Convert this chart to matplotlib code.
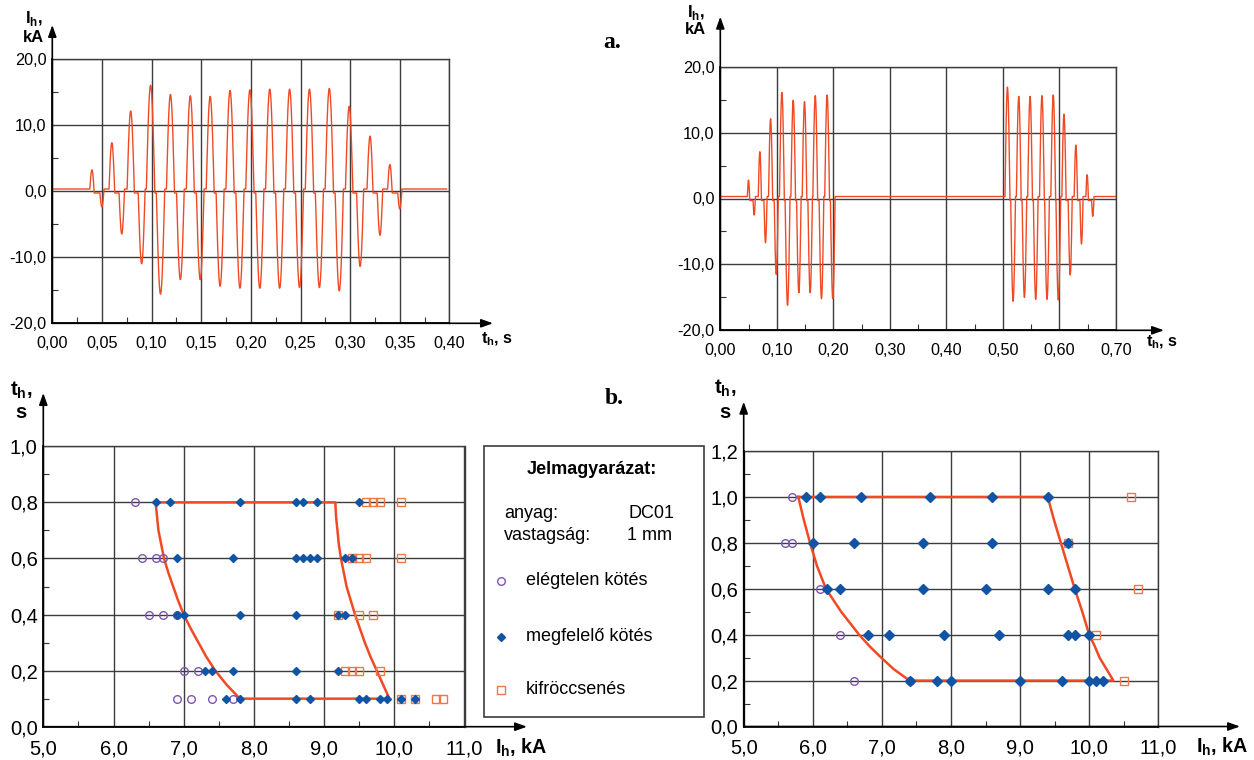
import numpy as np
import matplotlib
matplotlib.use("Agg")
import matplotlib.pyplot as plt
from matplotlib.patches import Rectangle
from matplotlib.lines import Line2D

# --- a. current waveforms (peak time in s, peak current in kA) ---
tl_pos_t = [0.040, 0.060, 0.079, 0.099, 0.119, 0.139, 0.159, 0.179, 0.199, 0.219, 0.239, 0.259, 0.279, 0.299, 0.320, 0.340]
tl_pos_a = [3.2, 7.3, 12.1, 16.0, 14.6, 14.4, 14.3, 15.2, 15.3, 15.4, 15.4, 15.4, 15.5, 12.8, 8.3, 4.0]
tl_neg_t = [0.050, 0.070, 0.090, 0.109, 0.129, 0.149, 0.169, 0.189, 0.209, 0.229, 0.249, 0.269, 0.289, 0.310, 0.330, 0.350]
tl_neg_a = [-2.4, -6.5, -11.0, -15.6, -13.4, -13.4, -14.4, -14.7, -14.7, -14.7, -14.6, -14.6, -15.1, -11.4, -6.7, -2.7]
tl_end = 0.397

tr_pos_t = [0.050, 0.070, 0.089, 0.109, 0.129, 0.149, 0.168, 0.189,
            0.508, 0.528, 0.548, 0.569, 0.589, 0.608, 0.629, 0.649]
tr_pos_a = [2.8, 7.1, 12.1, 16.1, 14.9, 14.7, 15.6, 15.7,
            16.9, 15.5, 15.5, 15.6, 15.7, 12.8, 8.1, 3.6]
tr_neg_t = [0.060, 0.080, 0.099, 0.119, 0.139, 0.159, 0.179, 0.199,
            0.518, 0.538, 0.558, 0.578, 0.598, 0.619, 0.639, 0.659]
tr_neg_a = [-2.5, -6.7, -11.5, -16.2, -14.3, -14.3, -15.2, -15.2,
            -15.6, -15.0, -15.3, -15.3, -15.4, -11.6, -6.9, -2.7]
tr_end = 0.70

# --- b. weld lobes (current kA, time s) ---
bl_weak_i = [6.3, 6.4, 6.6, 6.7, 6.5, 6.7, 6.9, 7.0, 7.2, 6.9, 7.1, 7.4, 7.7]
bl_weak_t = [0.8, 0.6, 0.6, 0.6, 0.4, 0.4, 0.4, 0.2, 0.2, 0.1, 0.1, 0.1, 0.1]
bl_good_i = [6.6, 6.8, 7.8, 8.6, 8.7, 8.9, 9.5,
             6.9, 7.7, 8.6, 8.7, 8.8, 8.9, 9.3, 9.4,
             6.9, 7.0, 7.8, 8.6, 9.2, 9.3,
             7.3, 7.4, 7.7, 8.6, 9.2,
             7.6, 7.8, 8.6, 8.8, 9.5, 9.6, 9.8, 9.9, 10.1, 10.3]
bl_good_t = [0.8] * 7 + [0.6] * 8 + [0.4] * 6 + [0.2] * 5 + [0.1] * 10
bl_splash_i = [9.6, 9.7, 9.8, 10.1, 9.4, 9.5, 9.6, 10.1, 9.2, 9.5, 9.7, 9.3, 9.4, 9.5, 9.8, 10.1, 10.3, 10.6, 10.7]
bl_splash_t = [0.8] * 4 + [0.6] * 4 + [0.4] * 3 + [0.2] * 4 + [0.1] * 4
bl_env_i = [6.60, 9.16, 9.17, 9.19, 9.21, 9.24, 9.28, 9.32, 9.38, 9.44, 9.51, 9.58, 9.66, 9.75, 9.84, 9.93,
            7.80, 7.61, 7.45, 7.32, 7.21, 7.10, 7.00, 6.92, 6.85, 6.78, 6.72, 6.68, 6.64, 6.62, 6.60]
bl_env_t = [0.80, 0.80, 0.75, 0.70, 0.65, 0.60, 0.55, 0.50, 0.45, 0.40, 0.35, 0.30, 0.25, 0.20, 0.15, 0.10,
            0.10, 0.15, 0.20, 0.25, 0.30, 0.35, 0.40, 0.45, 0.50, 0.55, 0.60, 0.65, 0.70, 0.75, 0.80]

br_weak_i = [5.7, 5.6, 5.7, 6.1, 6.4, 6.6, 7.4]
br_weak_t = [1.0, 0.8, 0.8, 0.6, 0.4, 0.2, 0.2]
br_good_i = [5.9, 6.1, 6.7, 7.7, 8.6, 9.4,
             6.0, 6.6, 7.6, 8.6, 9.7,
             6.2, 6.4, 7.6, 8.5, 9.4, 9.8,
             6.8, 7.1, 7.9, 8.7, 9.7, 9.8, 10.0,
             7.4, 7.8, 8.0, 9.0, 9.6, 10.0, 10.1, 10.2]
br_good_t = [1.0] * 6 + [0.8] * 5 + [0.6] * 6 + [0.4] * 7 + [0.2] * 8
br_splash_i = [10.6, 9.7, 10.7, 10.1, 10.5]
br_splash_t = [1.0, 0.8, 0.6, 0.4, 0.2]
br_env_i = [5.79, 9.40, 9.49, 9.59, 9.69, 9.79, 9.90, 10.00, 10.08, 10.15, 10.25, 10.35,
            7.40, 7.17, 6.99, 6.82, 6.67, 6.41, 6.19, 6.06, 5.96, 5.87, 5.79]
br_env_t = [1.0, 1.0, 0.9, 0.8, 0.7, 0.6, 0.5, 0.4, 0.35, 0.3, 0.25, 0.2,
            0.2, 0.25, 0.3, 0.35, 0.4, 0.5, 0.6, 0.7, 0.8, 0.9, 1.0]

tl_xticks = [0.00, 0.05, 0.10, 0.15, 0.20, 0.25, 0.30, 0.35, 0.40]
tr_xticks = [0.0, 0.1, 0.2, 0.3, 0.4, 0.5, 0.6, 0.7]
top_yticks = [-20, -10, 0, 10, 20]
b_xticks = [5, 6, 7, 8, 9, 10, 11]
bl_yticks = [0.0, 0.2, 0.4, 0.6, 0.8, 1.0]
br_yticks = [0.0, 0.2, 0.4, 0.6, 0.8, 1.0, 1.2]

W, H = 1254, 760
RED = "#f04a24"
GRID = "#3c3c3c"

plt.rcParams["font.family"] = ["Liberation Sans", "DejaVu Sans"]
plt.rcParams["mathtext.fontset"] = "custom"
plt.rcParams["mathtext.rm"] = "Liberation Sans"
plt.rcParams["mathtext.bf"] = "Liberation Sans:bold"

fig = plt.figure(figsize=(W / 100, H / 100), dpi=100)


def fxy(x, y):
    return x / W, 1 - y / H


def comma(v, nd):
    return f"{v:.{nd}f}".replace(".", ",")


def make_axes(box, tips):
    x0, y0, x1, y1 = box
    ax = fig.add_axes([x0 / W, 1 - y1 / H, (x1 - x0) / W, (y1 - y0) / H])
    xtip, ytip = tips
    arrow = dict(arrowstyle="-|>,head_length=0.7,head_width=0.25", color="black",
                 lw=1.2, mutation_scale=10, shrinkA=0, shrinkB=0)
    ax.annotate("", xy=((xtip - x0) / (x1 - x0), 0), xytext=(0, 0),
                xycoords="axes fraction", arrowprops=arrow, annotation_clip=False)
    ax.annotate("", xy=(0, (y1 - ytip) / (y1 - y0)), xytext=(0, 0),
                xycoords="axes fraction", arrowprops=arrow, annotation_clip=False)
    return ax


def style(ax, xticks, xnd, yticks, ynd, xminor, yminor, fs):
    ax.set_xticks(xticks)
    ax.set_xticklabels([comma(v, xnd) for v in xticks])
    ax.set_yticks(yticks)
    ax.set_yticklabels([comma(v, ynd) for v in yticks])
    ax.set_xticks(xminor, minor=True)
    ax.set_yticks(yminor, minor=True)
    ax.tick_params(which="major", length=0, labelsize=fs)
    ax.tick_params(axis="x", which="major", pad=9)
    ax.tick_params(axis="y", which="major", pad=4)
    ax.tick_params(which="minor", direction="in", length=4, width=0.8, color="#333333")
    ax.grid(True, which="major", color=GRID, lw=1.0)
    ax.set_axisbelow(True)
    for s in ["top", "right"]:
        ax.spines[s].set_color(GRID)
        ax.spines[s].set_linewidth(1.0)
    for s in ["left", "bottom"]:
        ax.spines[s].set_linewidth(1.2)


def waveform(pos_t, pos_a, neg_t, neg_a, t_end, step=0.3):
    # each half-wave lobe is drawn as a sine arc; between lobes the trace
    # rests slightly below zero after a positive lobe and above after a negative one
    times = np.array(pos_t + neg_t)
    amps = np.array(pos_a + neg_a)
    order = np.argsort(times)
    level = step
    t, y = [0.0], [level]
    u = np.linspace(0, 1, 31)
    shape = np.sin(np.pi * u)
    for tp, a in zip(times[order], amps[order]):
        half = 0.0017 + 0.0026 * abs(a) / 16
        nxt = -step if a > 0 else step
        t.extend(tp - half + 2 * half * u)
        y.extend(level * (1 - u) + nxt * u + a * shape)
        level = nxt
    t.append(t_end)
    y.append(level)
    return t, y


# ---------------- a. top left ----------------
ax1 = make_axes((52.3, 58.7, 449.5, 323.3), (493, 25))
ax1.set_xlim(0, 0.40)
ax1.set_ylim(-20, 20)
style(ax1, tl_xticks, 2, top_yticks, 1, np.arange(0.025, 0.4, 0.05), [-15, -5, 5, 15], 11.7)
t, y = waveform(tl_pos_t, tl_pos_a, tl_neg_t, tl_neg_a, tl_end)
ax1.plot(t, y, color=RED, lw=1.0)

# ---------------- a. top right ----------------
ax2 = make_axes((720.3, 66.7, 1116, 330.3), (1164, 16.7))
ax2.set_xlim(0, 0.70)
ax2.set_ylim(-20, 20)
style(ax2, tr_xticks, 2, top_yticks, 1, np.arange(0.05, 0.7, 0.1), [-15, -5, 5, 15], 11.7)
t, y = waveform(tr_pos_t, tr_pos_a, tr_neg_t, tr_neg_a, tr_end)
ax2.plot(t, y, color=RED, lw=1.0)

# ---------------- b. scatter plots ----------------
weak_style = dict(marker="o", ms=5.5, mfc="none", mec="#7d55b0", mew=1.0, ls="none")
good_style = dict(marker="D", ms=4.5, mfc="#1254a4", mec="#1254a4", ls="none")
splash_style = dict(marker="s", ms=6, mfc="none", mec="#f07845", mew=1.0, ls="none")

ax3 = make_axes((43.3, 446.3, 464.5, 726.7), (527, 393))
ax3.set_xlim(5, 11)
ax3.set_ylim(0, 1.0)
style(ax3, b_xticks, 1, bl_yticks, 1, np.arange(5.5, 11, 1.0), np.arange(0.1, 1.0, 0.2), 14.5)
ax3.plot(bl_env_i, bl_env_t, color=RED, lw=1.8)
ax3.plot(bl_weak_i, bl_weak_t, **weak_style)
ax3.plot(bl_splash_i, bl_splash_t, **splash_style)
ax3.plot(bl_good_i, bl_good_t, **good_style)

ax4 = make_axes((743.7, 451, 1158.3, 726.5), (1240, 401.7))
ax4.set_xlim(5, 11)
ax4.set_ylim(0, 1.2)
style(ax4, b_xticks, 1, br_yticks, 1, np.arange(5.5, 11, 1.0), np.arange(0.1, 1.2, 0.2), 14.5)
ax4.plot(br_env_i, br_env_t, color=RED, lw=1.8)
ax4.plot(br_weak_i, br_weak_t, **weak_style)
ax4.plot(br_splash_i, br_splash_t, **splash_style)
ax4.plot(br_good_i, br_good_t, **dict(good_style, ms=5.2))

# ---------------- axis labels ----------------
lab = dict(fontweight="bold", ha="center", va="center")
fig.text(*fxy(34, 18), r"I$_{\mathbf{h}}$,", fontsize=12, **lab)
fig.text(*fxy(33.5, 37), "kA", fontsize=12, **lab)
fig.text(*fxy(696, 12), r"I$_{\mathbf{h}}$,", fontsize=12, **lab)
fig.text(*fxy(695.5, 30), "kA", fontsize=12, **lab)
fig.text(*fxy(497, 339), r"t$_{\mathbf{h}}$, s", fontsize=11.7, **lab)
fig.text(*fxy(1162, 342), r"t$_{\mathbf{h}}$, s", fontsize=11.7, **lab)

fig.text(*fxy(21, 390), r"t$_{\mathbf{h}}$,", fontsize=14.5, **lab)
fig.text(*fxy(21.4, 413), "s", fontsize=14.5, **lab)
fig.text(*fxy(725, 388), r"t$_{\mathbf{h}}$,", fontsize=14.5, **lab)
fig.text(*fxy(724.5, 413), "s", fontsize=14.5, **lab)
fig.text(*fxy(521, 748), r"I$_{\mathbf{h}}$, kA", fontsize=14.2, **lab)
fig.text(*fxy(1222, 747), r"I$_{\mathbf{h}}$, kA", fontsize=14.2, **lab)

fig.text(*fxy(612, 42), "a.", fontsize=17, fontweight="bold", family="Liberation Serif",
         ha="center", va="center")
fig.text(*fxy(614, 398), "b.", fontsize=17, fontweight="bold", family="Liberation Serif",
         ha="center", va="center")

# ---------------- legend box ----------------
fig.add_artist(Rectangle(fxy(484, 717), 220 / W, 271 / H, transform=fig.transFigure,
                         fill=False, ec=GRID, lw=1.2))
fig.text(*fxy(592, 469), "Jelmagyarázat:", fontsize=13, fontweight="bold", ha="center", va="center")
fig.text(*fxy(504, 513), "anyag:", fontsize=13, ha="left", va="center")
fig.text(*fxy(628, 513), "DC01", fontsize=13, ha="left", va="center")
fig.text(*fxy(504, 536), "vastagság:", fontsize=13, ha="left", va="center")
fig.text(*fxy(627, 536), "1 mm", fontsize=13, ha="left", va="center")

legend_rows = [("elégtelen kötés", weak_style, 580.7),
               ("megfelelő kötés", good_style, 636.7),
               ("kifröccsenés", splash_style, 690)]
for label, st, ypx in legend_rows:
    mx, my = fxy(500.7, ypx)
    fig.add_artist(Line2D([mx], [my], transform=fig.transFigure, **st))
    fig.text(*fxy(526, ypx), label, fontsize=13, ha="left", va="center")

fig.savefig("out.png", dpi=100, facecolor="white")
